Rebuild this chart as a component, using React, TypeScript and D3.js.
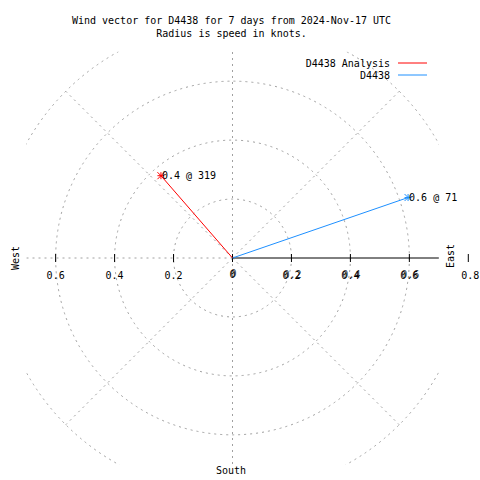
import React from "react";
import * as d3 from "d3";

const seriesNames = ["D4438 Analysis", "D4438"];
const seriesColors = ["#ff0000", "#1e90ff"];
const speeds = [0.37, 0.63];
const directions = [319, 71];
const gridRadii = [0.2, 0.4, 0.6, 0.8];
const spokeAngles = [0, 45, 90, 135, 180, 225, 270, 315];
const westTicks = [0.6, 0.4, 0.2];
const eastTicks = [0.2, 0.4, 0.6];
const titleLines = [
  "Wind vector for D4438 for 7 days from 2024-Nov-17 UTC",
  "Radius is speed in knots.",
];

const W = 480;
const H = 480;
const cx = 232.5;
const cy = 258;
const rMax = 0.8;
const r = d3.scaleLinear().domain([0, rMax]).range([0, 235.8]);
const half = r(0.7);
const FONT = "'DejaVu Sans Mono', 'Liberation Mono', monospace";
const GRID = "#a0a0a0";

function polar(speed: number, dirDeg: number): [number, number] {
  const a = (dirDeg * Math.PI) / 180;
  return [cx + r(speed) * Math.sin(a), cy - r(speed) * Math.cos(a)];
}

function Star({ x, y, color }: { x: number; y: number; color: string }) {
  const s = 3.5;
  return (
    <g stroke={color} strokeWidth={1}>
      <line x1={x - s} y1={y} x2={x + s} y2={y} />
      <line x1={x} y1={y - s} x2={x} y2={y + s} />
      <line x1={x - s} y1={y - s} x2={x + s} y2={y + s} />
      <line x1={x - s} y1={y + s} x2={x + s} y2={y - s} />
    </g>
  );
}

export default function App() {
  return (
    <svg
      width={W}
      height={H}
      style={{ position: "absolute", left: 0, top: 0, background: "#fff" }}
      fontFamily={FONT}
      fontSize={10}
    >
      <defs>
        <clipPath id="plotclip">
          <rect x={cx - half} y={cy - half} width={half * 2} height={half * 2} />
        </clipPath>
      </defs>
      <rect x={0} y={0} width={W} height={H} fill="#fff" />
      {titleLines.map((t, i) => (
        <text key={t} x={231.5} y={24 + i * 13} textAnchor="middle" fill="#000">
          {t}
        </text>
      ))}
      <g clipPath="url(#plotclip)">
        {gridRadii.map((g) => (
          <circle
            key={g}
            cx={cx}
            cy={cy}
            r={r(g)}
            fill="none"
            stroke={GRID}
            strokeDasharray="2,4"
          />
        ))}
        {spokeAngles
          .filter((a) => a !== 90)
          .map((a) => {
            const [x2, y2] = polar(rMax, a);
            return (
              <line
                key={a}
                x1={cx}
                y1={cy}
                x2={x2}
                y2={y2}
                stroke={GRID}
                strokeDasharray="2,4"
              />
            );
          })}
        <line x1={cx} y1={cy} x2={cx + r(rMax)} y2={cy} stroke="#000" />
        {[0, ...eastTicks].map((t) => (
          <line key={"e" + t} x1={cx + r(t)} x2={cx + r(t)} y1={cy - 4} y2={cy + 4} stroke="#000" />
        ))}
        {westTicks.map((t) => (
          <line key={"w" + t} x1={cx - r(t)} x2={cx - r(t)} y1={cy - 4} y2={cy + 4} stroke="#000" />
        ))}
        {speeds.map((s, i) => {
          const [x, y] = polar(s, directions[i]);
          return (
            <g key={i}>
              <line x1={cx} y1={cy} x2={x} y2={y} stroke={seriesColors[i]} />
              <Star x={x} y={y} color={seriesColors[i]} />
            </g>
          );
        })}
      </g>
      {speeds.map((s, i) => {
        const [x, y] = polar(s, directions[i]);
        return (
          <text key={"l" + i} x={x + 1} y={y + 3.5} fill="#000">
            {`${s.toFixed(1)} @ ${directions[i]}`}
          </text>
        );
      })}
      {westTicks.map((t) => (
        <text key={"wl" + t} x={cx - r(t)} y={279} textAnchor="middle" fill="#000">
          {t.toFixed(1)}
        </text>
      ))}
      <text x={cx} y={278} textAnchor="middle" fill="#000">0</text>
      <text x={cx + 1} y={277} textAnchor="middle" fill="#000" opacity={0.8}>0</text>
      {eastTicks.map((t) => (
        <g key={"el" + t}>
          <text x={cx + r(t)} y={279} textAnchor="middle" fill="#000">
            {t.toFixed(1)}
          </text>
          <text x={cx + r(t) + 1} y={278} textAnchor="middle" fill="#000" opacity={0.8}>
            {t.toFixed(1)}
          </text>
        </g>
      ))}
      <line x1={cx + r(rMax)} x2={cx + r(rMax)} y1={cy - 4} y2={cy + 4} stroke="#000" />
      <text x={cx + r(rMax) + 2} y={279} textAnchor="middle" fill="#000">
        {rMax.toFixed(1)}
      </text>
      <text transform={`translate(19,${cy}) rotate(-90)`} textAnchor="middle" fill="#000">
        West
      </text>
      <text transform={`translate(454,${cy - 2}) rotate(-90)`} textAnchor="middle" fill="#000">
        East
      </text>
      <text x={231} y={474} textAnchor="middle" fill="#000">South</text>
      {seriesNames.map((n, i) => (
        <g key={n}>
          <text x={390} y={67 + i * 12} textAnchor="end" fill="#000">
            {n}
          </text>
          <line
            x1={398}
            x2={427}
            y1={63 + i * 12}
            y2={63 + i * 12}
            stroke={seriesColors[i]}
          />
        </g>
      ))}
    </svg>
  );
}
